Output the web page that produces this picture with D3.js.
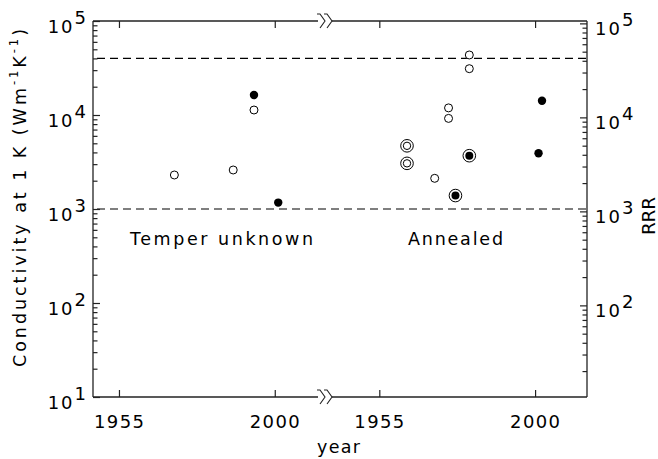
<!DOCTYPE html>
<html><head><meta charset="utf-8">
<script src="https://cdn.jsdelivr.net/npm/d3@7"></script>
<style>
body{margin:0;background:#fff}
text{font-family:"DejaVu Sans",Arial,sans-serif;fill:#000}
</style>
</head><body><svg id="c" width="658" height="459"></svg>
<script>
// ---- data ----
const yearTicks = [1955, 2000];
const condTickExps = [1, 2, 3, 4, 5];
const rrrTickExps = [2, 3, 4, 5];
const temperYears   = [1971, 1988, 1994, 1994, 2001];
const temperValues  = [2300, 2600, 16300, 11300, 1170];
const temperMarkers = ["open", "open", "filled", "open", "filled"];
const annealedYears   = [1963, 1963, 1971, 1975, 1975, 1977, 1981, 1981, 1981, 2002, 2001];
const annealedValues  = [4700, 3060, 2120, 11900, 9200, 1390, 43500, 31100, 3690, 14200, 3920];
const annealedMarkers = ["double", "double", "open", "open", "open", "ringfilled", "open", "open", "ringfilled", "filled", "filled"];
const refLines = [40000, 1000];
const panelLabels = ["Temper unknown", "Annealed"];
const rrrPerConductivity = 1.06;

// ---- layout ----
const L = 93, R = 587, T = 21, B = 397, BRK = 326;
const svg = d3.select("#c");
const y = d3.scaleLog().domain([10, 1e5]).range([B, T]);
const yR = d3.scaleLog().domain([10 * rrrPerConductivity, 1e5 * rrrPerConductivity]).range([B, T]);
const xL = d3.scaleLinear().domain([1947.5, 2014.8]).range([L, BRK]);
const xR = d3.scaleLinear().domain([1939.6, 2015.0]).range([BRK, R]);

const AX = "#222";
const FS = 17.5, LS = 2;

svg.append("g").selectAll("line").data(refLines).join("line")
  .attr("x1", L).attr("x2", R)
  .attr("y1", d => y(d)).attr("y2", d => y(d))
  .attr("stroke", "#000").attr("stroke-width", 1.1)
  .attr("stroke-dasharray", "8,5").attr("stroke-dashoffset", -4);

const frame = svg.append("g").attr("stroke", AX).attr("stroke-width", 1.3).attr("fill", "none");
frame.append("line").attr("x1", L).attr("x2", L).attr("y1", T).attr("y2", B);
frame.append("line").attr("x1", R).attr("x2", R).attr("y1", T).attr("y2", B);
[T, B].forEach(yy => {
  frame.append("line").attr("x1", L).attr("x2", BRK - 8).attr("y1", yy).attr("y2", yy);
  frame.append("line").attr("x1", BRK + 6).attr("x2", R).attr("y1", yy).attr("y2", yy);
  [0, 7].forEach(o => {
    frame.append("path")
      .attr("d", `M${BRK - 9 + o},${yy - 7} L${BRK - 6 + o},${yy - 7} L${BRK - 1 + o},${yy} L${BRK - 6 + o},${yy + 7}`)
      .attr("stroke-width", 1.1);
  });
});

function minorTicks(exps, lo, hi) {
  const out = [];
  for (let e = exps[0] - 1; e <= exps[exps.length - 1]; e++)
    for (let k = 2; k <= 9; k++) { const v = k * Math.pow(10, e); if (v > lo && v < hi) out.push(v); }
  return out;
}
const leftMajor = condTickExps.map(e => Math.pow(10, e));
svg.append("g").attr("transform", `translate(${L},0)`)
  .call(d3.axisRight(y).tickValues(leftMajor).tickSize(7).tickFormat(""))
  .call(g => g.select(".domain").remove());
svg.append("g").attr("transform", `translate(${L},0)`)
  .call(d3.axisRight(y).tickValues(minorTicks(condTickExps, 10, 1e5)).tickSize(4.5).tickFormat(""))
  .call(g => g.select(".domain").remove());
const rrrMajor = rrrTickExps.map(e => Math.pow(10, e));
svg.append("g").attr("transform", `translate(${R},0)`)
  .call(d3.axisLeft(yR).tickValues(rrrMajor).tickSize(7).tickFormat(""))
  .call(g => g.select(".domain").remove());
svg.append("g").attr("transform", `translate(${R},0)`)
  .call(d3.axisLeft(yR).tickValues(minorTicks(rrrTickExps, yR.domain()[0], yR.domain()[1])).tickSize(4.5).tickFormat(""))
  .call(g => g.select(".domain").remove());
[xL, xR].forEach(xs => {
  svg.append("g").attr("transform", `translate(0,${B})`)
    .call(d3.axisTop(xs).tickValues(yearTicks).tickSize(7).tickFormat(""))
    .call(g => g.select(".domain").remove());
  svg.append("g").attr("transform", `translate(0,${T})`)
    .call(d3.axisBottom(xs).tickValues(yearTicks).tickSize(7).tickFormat(""))
    .call(g => g.select(".domain").remove());
  yearTicks.forEach(t => {
    svg.append("text").attr("x", xs(t) - 25).attr("y", B + 31)
      .attr("font-size", 18).attr("textLength", 50).attr("lengthAdjust", "spacing")
      .text(t);
  });
});
svg.selectAll(".tick line").attr("stroke", AX).attr("stroke-width", 1.2);

function powLabel(xpos, ypos, exp, anchorEnd) {
  const t = svg.append("text").attr("font-size", 18).attr("letter-spacing", LS)
    .attr("x", xpos).attr("y", ypos + 12);
  t.append("tspan").text("10");
  t.append("tspan").attr("dy", -9).text(exp);
  if (anchorEnd) {
    const w = t.node().getComputedTextLength();
    t.attr("x", xpos - w);
  }
}
condTickExps.forEach(e => powLabel(88, y(Math.pow(10, e)), e, true));
rrrTickExps.forEach(e => powLabel(595, yR(Math.pow(10, e)), e, false));

svg.append("text").attr("x", 317).attr("y", 453)
  .attr("font-size", FS).attr("textLength", 43).attr("lengthAdjust", "spacing").text("year");
const yt = svg.append("text").attr("transform", "translate(26,367) rotate(-90)")
  .attr("font-size", FS).attr("textLength", 338).attr("lengthAdjust", "spacing");
yt.append("tspan").text("Conductivity at 1 K (Wm");
yt.append("tspan").attr("font-size", 11.5).attr("dy", -8).text("-1");
yt.append("tspan").attr("dy", 8).text("K");
yt.append("tspan").attr("font-size", 11.5).attr("dy", -8).text("-1");
yt.append("tspan").attr("dy", 8).text(")");
svg.append("text").attr("transform", "translate(655,235) rotate(-90)")
  .attr("font-size", 18.5).attr("textLength", 38).attr("lengthAdjust", "spacing").text("RRR");

svg.append("text").attr("x", 130).attr("y", 245)
  .attr("font-size", FS).attr("textLength", 183).attr("lengthAdjust", "spacing").text(panelLabels[0]);
svg.append("text").attr("x", 408).attr("y", 245)
  .attr("font-size", FS).attr("textLength", 95).attr("lengthAdjust", "spacing").text(panelLabels[1]);

function drawMarkers(xs, years, vals, kinds) {
  const g = svg.append("g");
  years.forEach((yr, i) => {
    const cx = xs(yr), cy = y(vals[i]), k = kinds[i];
    if (k === "open") g.append("circle").attr("cx", cx).attr("cy", cy).attr("r", 4).attr("fill", "#fff").attr("stroke", "#000").attr("stroke-width", 1);
    if (k === "filled") g.append("circle").attr("cx", cx).attr("cy", cy).attr("r", 4.2).attr("fill", "#000");
    if (k === "double") {
      g.append("circle").attr("cx", cx).attr("cy", cy).attr("r", 6.3).attr("fill", "#fff").attr("stroke", "#000").attr("stroke-width", 1);
      g.append("circle").attr("cx", cx).attr("cy", cy).attr("r", 3.7).attr("fill", "none").attr("stroke", "#000").attr("stroke-width", 1);
    }
    if (k === "ringfilled") {
      g.append("circle").attr("cx", cx).attr("cy", cy).attr("r", 6.3).attr("fill", "#fff").attr("stroke", "#000").attr("stroke-width", 1);
      g.append("circle").attr("cx", cx).attr("cy", cy).attr("r", 4).attr("fill", "#000");
    }
  });
}
drawMarkers(xL, temperYears, temperValues, temperMarkers);
drawMarkers(xR, annealedYears, annealedValues, annealedMarkers);
</script></body></html>
